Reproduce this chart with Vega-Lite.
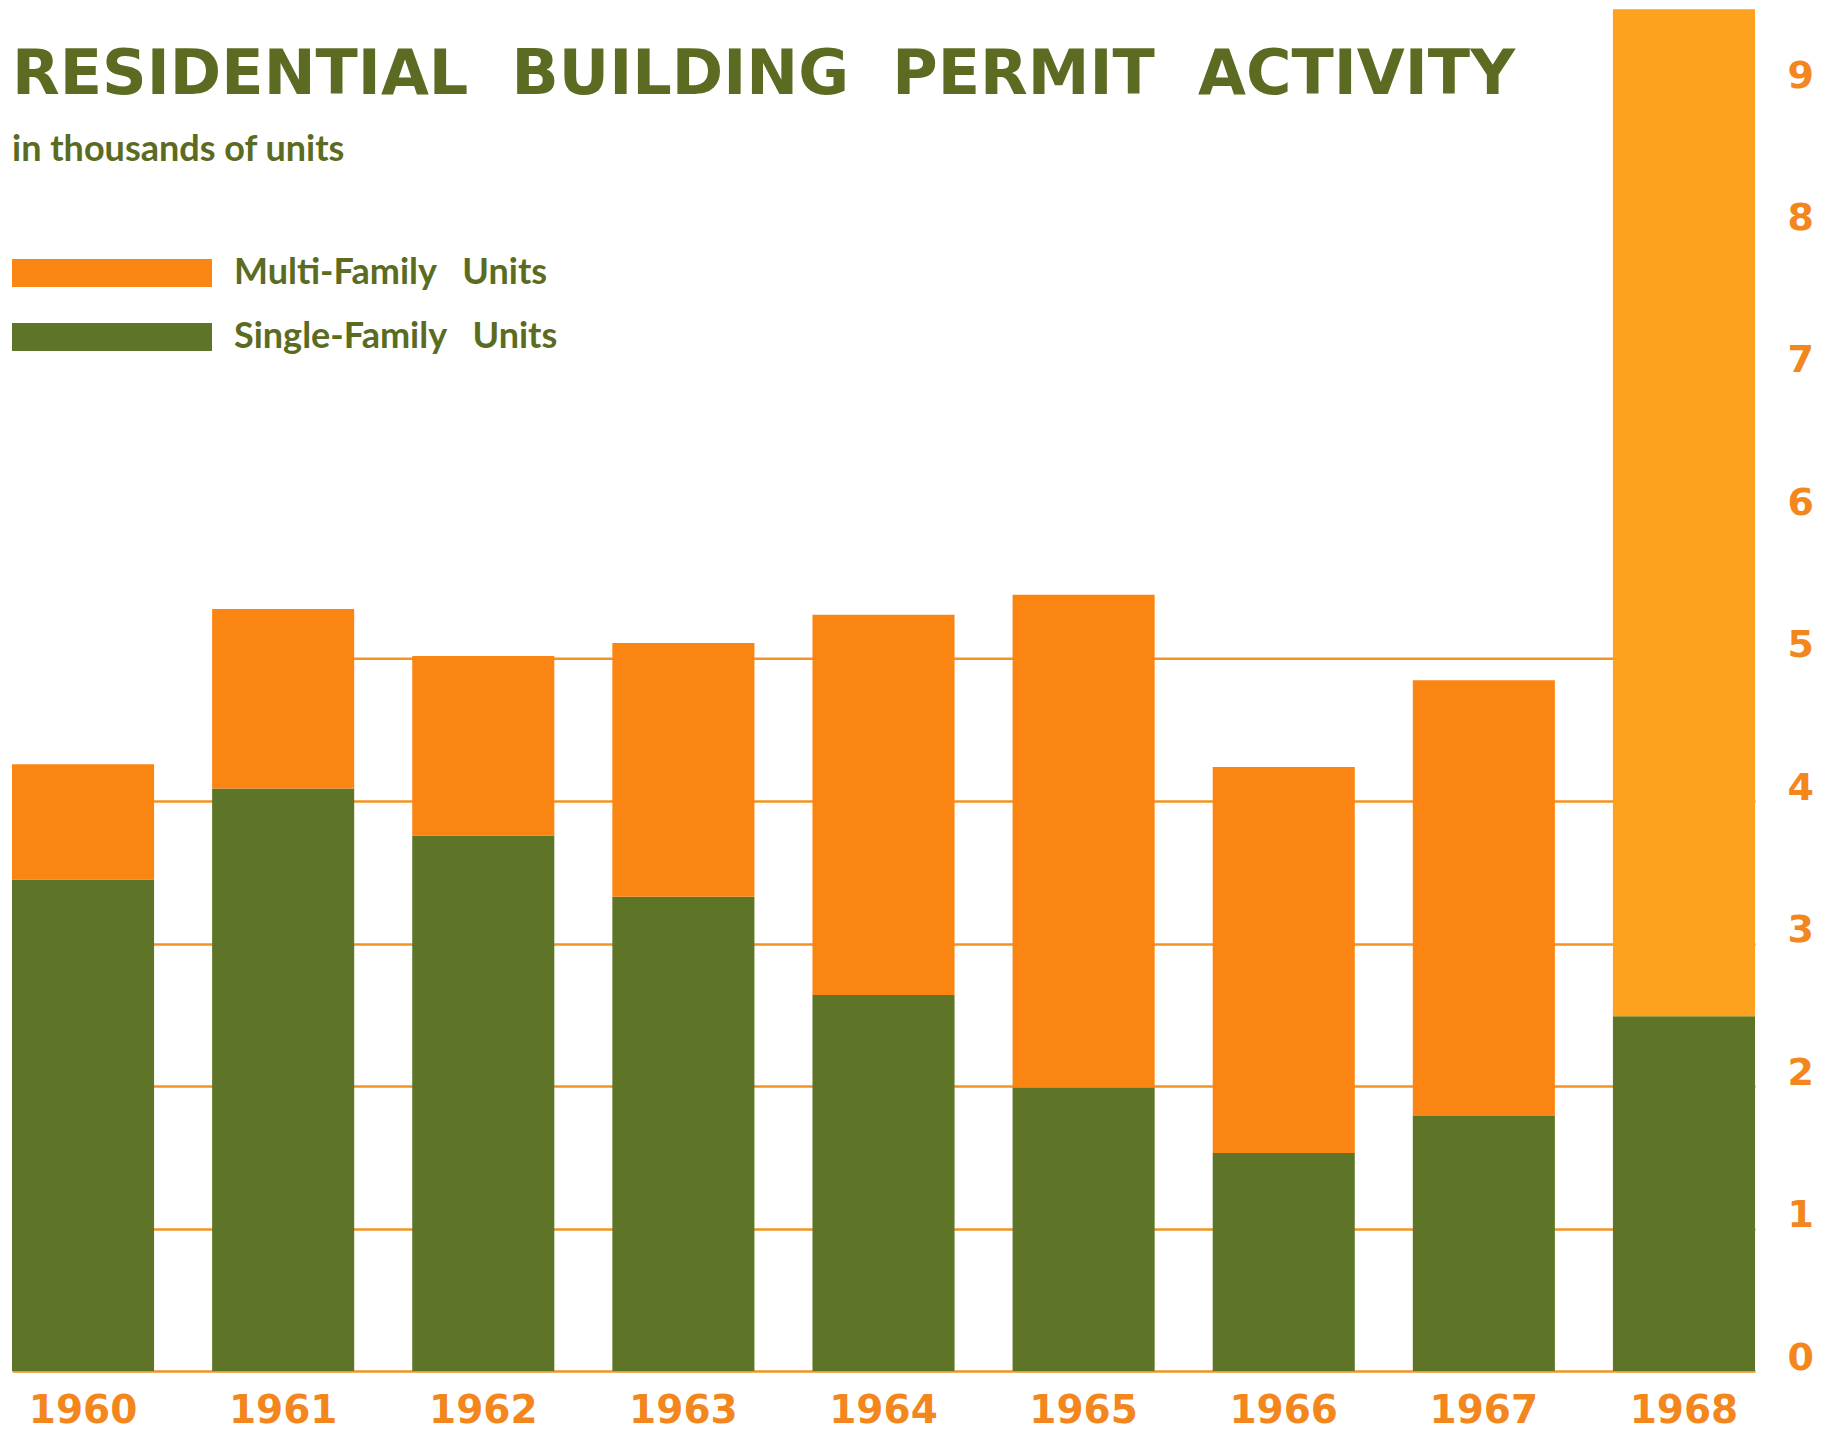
{
  "$schema": "https://vega.github.io/schema/vega-lite/v6.json",
  "width": 1743,
  "height": 1371,
  "autosize": "none",
  "padding": {"left": 12, "top": 0, "right": 76, "bottom": 63},
  "background": "white",
  "title": {
    "text": "RESIDENTIAL\u00a0 BUILDING\u00a0 PERMIT\u00a0 ACTIVITY",
    "subtitle": "in thousands of units",
    "anchor": "start",
    "frame": "group",
    "orient": "top",
    "offset": -169,
    "font": "DejaVu Sans",
    "fontSize": 62,
    "fontWeight": "bold",
    "color": "#5b6b21",
    "subtitleFont": "Lato",
    "subtitleFontSize": 36,
    "subtitleFontWeight": "bold",
    "subtitleColor": "#5b6b21",
    "subtitlePadding": 26
  },
  "layer": [
    {
      "data": {"values": [{"year": "1961", "year_end": "1968", "units": 5}]},
      "mark": {"type": "rule", "color": "#f59322", "strokeWidth": 2.5, "strokeCap": "butt"},
      "encoding": {
        "x": {
          "field": "year",
          "type": "ordinal",
          "scale": {"paddingInner": 0.29, "paddingOuter": 0},
          "axis": {
            "title": null,
            "orient": "bottom",
            "domain": false,
            "ticks": false,
            "grid": false,
            "labelAngle": 0,
            "labelFont": "DejaVu Sans",
            "labelFontWeight": "bold",
            "labelFontSize": 39,
            "labelColor": "#f3871d",
            "labelPadding": 20,
            "labelBaseline": "top"
          }
        },
        "x2": {"field": "year_end"},
        "y": {
          "field": "units",
          "type": "quantitative",
          "scale": {"domain": [0, 9.625], "nice": false, "zero": true},
          "axis": {
            "title": null,
            "orient": "right",
            "values": [0, 1, 2, 3, 4, 5, 6, 7, 8, 9],
            "domain": false,
            "ticks": false,
            "grid": true,
            "gridColor": "#f59322",
            "gridWidth": 2.5,
            "gridOpacity": {"condition": {"test": "datum.value <= 4", "value": 1}, "value": 0},
            "labelFont": "DejaVu Sans",
            "labelFontWeight": "bold",
            "labelFontSize": 38,
            "labelColor": "#f3871d",
            "labelPadding": 32,
            "labelAlign": "left",
            "labelBaseline": "middle",
            "labelOffset": -13,
            "labelFlush": false,
            "labelOverlap": false
          }
        }
      }
    },
    {
      "data": {
        "values": [
          {"year": "1960", "type": "Single-Family Units", "units": 3.45},
          {"year": "1960", "type": "Multi-Family Units", "units": 0.81},
          {"year": "1961", "type": "Single-Family Units", "units": 4.09},
          {"year": "1961", "type": "Multi-Family Units", "units": 1.26},
          {"year": "1962", "type": "Single-Family Units", "units": 3.76},
          {"year": "1962", "type": "Multi-Family Units", "units": 1.26},
          {"year": "1963", "type": "Single-Family Units", "units": 3.33},
          {"year": "1963", "type": "Multi-Family Units", "units": 1.78},
          {"year": "1964", "type": "Single-Family Units", "units": 2.64},
          {"year": "1964", "type": "Multi-Family Units", "units": 2.67},
          {"year": "1965", "type": "Single-Family Units", "units": 1.99},
          {"year": "1965", "type": "Multi-Family Units", "units": 3.46},
          {"year": "1966", "type": "Single-Family Units", "units": 1.53},
          {"year": "1966", "type": "Multi-Family Units", "units": 2.71},
          {"year": "1967", "type": "Single-Family Units", "units": 1.79},
          {"year": "1967", "type": "Multi-Family Units", "units": 3.06},
          {"year": "1968", "type": "Single-Family Units", "units": 2.49},
          {"year": "1968", "type": "Multi-Family Units", "units": 7.07}
        ]
      },
      "mark": {"type": "bar", "stroke": null, "strokeWidth": 0},
      "encoding": {
        "x": {
          "field": "year",
          "type": "ordinal",
          "scale": {"paddingInner": 0.29, "paddingOuter": 0},
          "axis": {
            "title": null,
            "orient": "bottom",
            "domain": false,
            "ticks": false,
            "grid": false,
            "labelAngle": 0,
            "labelFont": "DejaVu Sans",
            "labelFontWeight": "bold",
            "labelFontSize": 39,
            "labelColor": "#f3871d",
            "labelPadding": 20,
            "labelBaseline": "top"
          }
        },
        "y": {
          "field": "units",
          "type": "quantitative",
          "stack": "zero",
          "scale": {"domain": [0, 9.625], "nice": false, "zero": true},
          "axis": {
            "title": null,
            "orient": "right",
            "values": [0, 1, 2, 3, 4, 5, 6, 7, 8, 9],
            "domain": false,
            "ticks": false,
            "grid": true,
            "gridColor": "#f59322",
            "gridWidth": 2.5,
            "gridOpacity": {"condition": {"test": "datum.value <= 4", "value": 1}, "value": 0},
            "labelFont": "DejaVu Sans",
            "labelFontWeight": "bold",
            "labelFontSize": 38,
            "labelColor": "#f3871d",
            "labelPadding": 32,
            "labelAlign": "left",
            "labelBaseline": "middle",
            "labelOffset": -13,
            "labelFlush": false,
            "labelOverlap": false
          }
        },
        "color": {
          "field": "type",
          "type": "nominal",
          "scale": {
            "domain": ["Multi-Family Units", "Single-Family Units"],
            "range": ["#fb8513", "#5e7527"]
          },
          "condition": {"test": "datum.year === '1968' && datum.type === 'Multi-Family Units'", "value": "#fca21f"},
          "legend": {
            "title": null,
            "orient": "none",
            "legendX": 0,
            "legendY": 258,
            "padding": 0,
            "direction": "vertical",
            "symbolType": "M-1,-0.14H1V0.14H-1Z",
            "symbolSize": 40000,
            "symbolStrokeWidth": 0,
            "symbolOpacity": 1,
            "clipHeight": 30,
            "rowPadding": 28,
            "labelOffset": 22,
            "labelFont": "Lato",
            "labelFontWeight": "bold",
            "labelFontSize": 36,
            "labelColor": "#5b6b1f",
            "labelLimit": 600,
            "labelExpr": "replace(datum.label, ' ', '\u00a0\u00a0 ')"
          }
        },
        "order": {"field": "type", "sort": "descending"}
      }
    }
  ],
  "config": {
    "view": {"stroke": null},
    "axis": {"gridCap": "butt"}
  }
}
